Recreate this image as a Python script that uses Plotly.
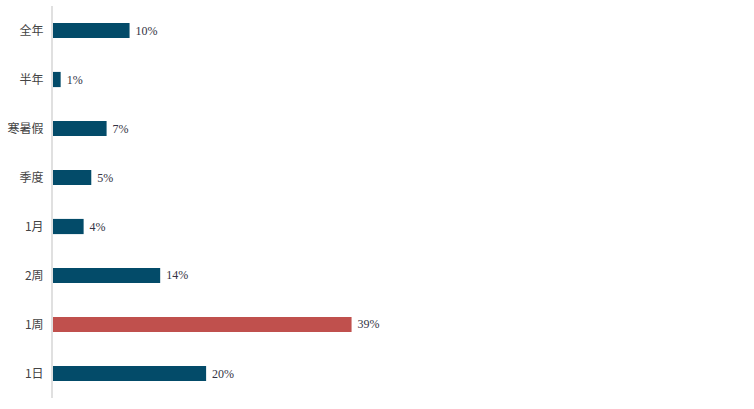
import plotly.graph_objects as go

categories = ["全年", "半年", "寒暑假", "季度", "1月", "2周", "1周", "1日"]
values = [10, 1, 7, 5, 4, 14, 39, 20]
labels = ["10%", "1%", "7%", "5%", "4%", "14%", "39%", "20%"]
colors = ["#034b69" if c != "1周" else "#c0504d" for c in categories]

fig = go.Figure(go.Bar(
    y=categories, x=values, orientation="h",
    marker=dict(color=colors, line=dict(width=0)),
    text=[" " + t for t in labels], textposition="outside", cliponaxis=False,
    textfont=dict(family="Liberation Serif, serif", size=12, color="#333344"),
    width=0.31,
))

fig.update_layout(
    width=754, height=409,
    margin=dict(l=53, r=12, t=6, b=11, autoexpand=False),
    plot_bgcolor="white", paper_bgcolor="white",
    showlegend=False,
    xaxis=dict(range=[0, 90], visible=False, automargin=False),
    yaxis=dict(autorange="reversed", showline=True, linecolor="#e0e0e0", linewidth=2,
               ticks="", ticklen=0, showgrid=False, automargin=False,
               ticklabelstandoff=5,
               tickfont=dict(family="Noto Sans CJK SC", size=12, color="#444444")),
)
fig.write_html("out.html", config={"displayModeBar": False},
               post_script="document.body.style.margin='0';document.body.style.overflow='hidden';")
